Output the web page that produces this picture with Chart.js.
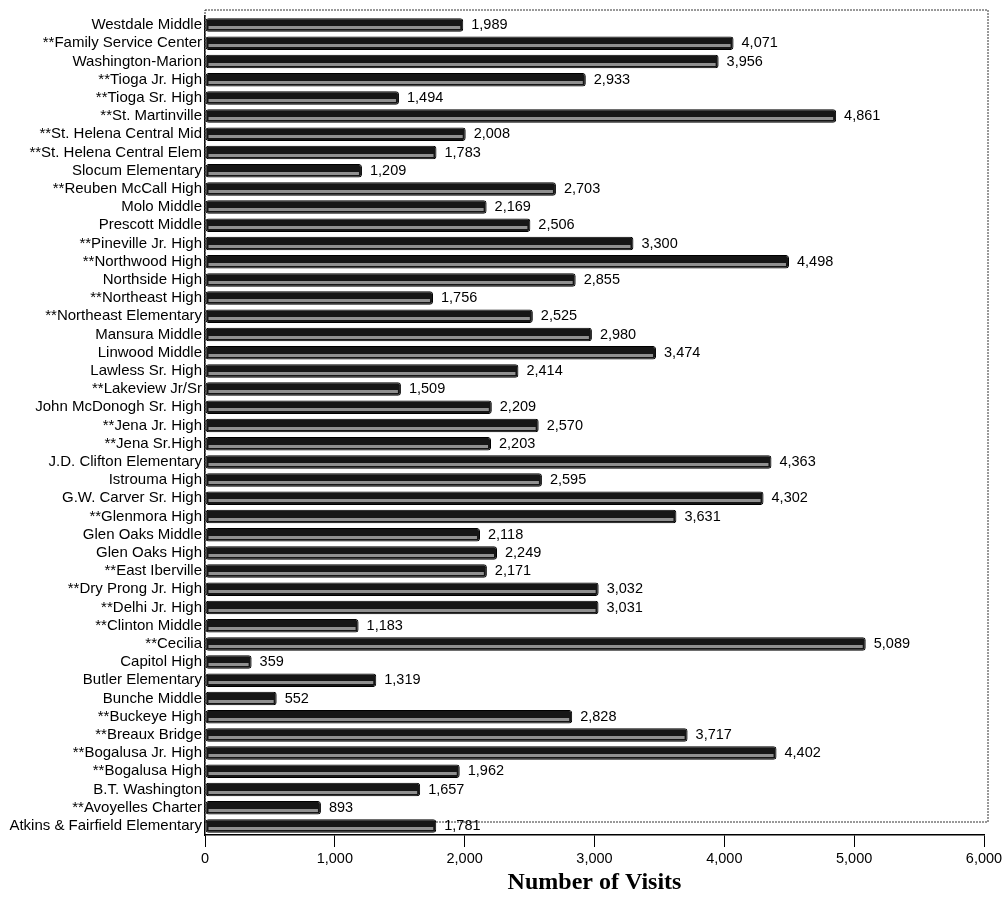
<!DOCTYPE html>
<html>
<head>
<meta charset="utf-8">
<title>Number of Visits</title>
<script src="https://cdn.jsdelivr.net/npm/chart.js@4/dist/chart.umd.min.js"></script>
<style>
  html, body { margin: 0; padding: 0; background: #fff; }
  #wrap { width: 1007px; height: 924px; }
</style>
</head>
<body>
<div id="wrap"><canvas id="visits-chart"></canvas></div>
<script>
const schools = [
  "Westdale Middle", "**Family Service Center", "Washington-Marion", "**Tioga Jr. High",
  "**Tioga Sr. High", "**St. Martinville", "**St. Helena Central Mid", "**St. Helena Central Elem",
  "Slocum Elementary", "**Reuben McCall High", "Molo Middle", "Prescott Middle",
  "**Pineville Jr. High", "**Northwood High", "Northside High", "**Northeast High",
  "**Northeast Elementary", "Mansura Middle", "Linwood Middle", "Lawless Sr. High",
  "**Lakeview Jr/Sr", "John McDonogh Sr. High", "**Jena Jr. High", "**Jena Sr.High",
  "J.D. Clifton Elementary", "Istrouma High", "G.W. Carver Sr. High", "**Glenmora High",
  "Glen Oaks Middle", "Glen Oaks High", "**East Iberville", "**Dry Prong Jr. High",
  "**Delhi Jr. High", "**Clinton Middle", "**Cecilia", "Capitol High",
  "Butler Elementary", "Bunche Middle", "**Buckeye High", "**Breaux Bridge",
  "**Bogalusa Jr. High", "**Bogalusa High", "B.T. Washington", "**Avoyelles Charter",
  "Atkins & Fairfield Elementary"
];

const visits = [
  1989, 4071, 3956, 2933,
  1494, 4861, 2008, 1783,
  1209, 2703, 2169, 2506,
  3300, 4498, 2855, 1756,
  2525, 2980, 3474, 2414,
  1509, 2209, 2570, 2203,
  4363, 2595, 4302, 3631,
  2118, 2249, 2171, 3032,
  3031, 1183, 5089, 359,
  1319, 552, 2828, 3717,
  4402, 1962, 1657, 893,
  1781
];

const xTicks = [0, 1000, 2000, 3000, 4000, 5000, 6000];

const fmt = (v) => v.toLocaleString("en-US");

// light stripe through each bar + value label at the bar end
const barDecor = {
  id: "barDecor",
  afterDatasetsDraw(chart) {
    const ctx = chart.ctx;
    const meta = chart.getDatasetMeta(0);
    ctx.save();
    meta.data.forEach((bar, i) => {
      const left = Math.min(bar.x, bar.base);
      const w = Math.abs(bar.x - bar.base);
      ctx.fillStyle = "#909090";
      ctx.fillRect(left + 3, Math.round(bar.y) + 1, Math.max(w - 6, 0), 3);
      ctx.fillStyle = "#000";
      ctx.font = "14.5px 'Liberation Sans', Arial, sans-serif";
      ctx.textAlign = "left";
      ctx.textBaseline = "middle";
      ctx.fillText(fmt(visits[i]), bar.x + 8, bar.y);
    });
    ctx.restore();
  },
};

// frame round the plot area
const frame = {
  id: "frame",
  beforeDatasetsDraw(chart) {
    const { ctx, chartArea } = chart;
    ctx.save();
    ctx.strokeStyle = "#333";
    ctx.lineWidth = 1;
    ctx.setLineDash([2, 1]);
    ctx.strokeRect(chartArea.left, chartArea.top - 6, chartArea.right - chartArea.left + 4, chartArea.bottom - chartArea.top - 7);
    ctx.restore();
  },
};

const ctx = document.getElementById("visits-chart").getContext("2d");
new Chart(ctx, {
  type: "bar",
  data: {
    labels: schools,
    datasets: [
      {
        label: "Number of Visits",
        data: visits,
        backgroundColor: "#161616",
        borderColor: "#000",
        borderWidth: 1,
        borderRadius: 3,
        borderSkipped: false,
        barPercentage: 0.74,
        categoryPercentage: 1,
      },
    ],
  },
  options: {
    indexAxis: "y",
    responsive: true,
    maintainAspectRatio: false,
    animation: false,
    layout: { padding: { top: 16, right: 23, left: 0, bottom: 0 } },
    plugins: {
      legend: { display: false },
      tooltip: { enabled: false },
    },
    scales: {
      x: {
        min: 0,
        max: 6000,
        afterBuildTicks: (scale) => {
          scale.ticks = xTicks.map((v) => ({ value: v }));
        },
        afterFit: (scale) => {
          scale.height = 89;
        },
        ticks: {
          color: "#000",
          padding: 3,
          maxRotation: 0,
          font: { family: "'Liberation Sans', Arial, sans-serif", size: 14.5 },
          callback: (v) => fmt(v),
        },
        grid: {
          drawOnChartArea: false,
          drawTicks: true,
          tickLength: 12,
          color: "#000",
        },
        border: { display: true, color: "#000", width: 1.5 },
        title: {
          display: true,
          text: "Number of Visits",
          color: "#000",
          font: { family: "'Liberation Serif', 'Times New Roman', serif", size: 24, weight: "bold" },
          padding: { top: 0, bottom: 27 },
        },
      },
      y: {
        afterFit: (scale) => {
          scale.width = 205;
        },
        ticks: {
          color: "#000",
          padding: 3,
          autoSkip: false,
          font: { family: "'Liberation Sans', Arial, sans-serif", size: 15 },
        },
        grid: { drawOnChartArea: false, drawTicks: false },
        border: { display: true, color: "#000", width: 1.5 },
      },
    },
  },
  plugins: [frame, barDecor],
});
</script>
</body>
</html>
